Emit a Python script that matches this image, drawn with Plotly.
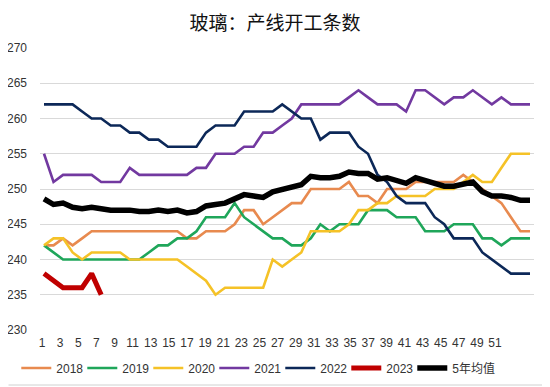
import plotly.graph_objects as go

weeks = list(range(1, 53))
week_labels = list(range(1, 52, 2))

y2018 = [242, 242, 243, 242, 243, 244, 244, 244, 244, 244, 244, 244, 244, 244, 244, 243, 243,
         244, 244, 244, 245, 247, 247, 245, 246, 247, 248, 248, 250, 250, 250, 250, 251, 249,
         249, 248, 250, 250, 250, 251, 251, 251, 251, 251, 252, 251, 250, 249, 248, 246, 244, 244]
y2019 = [242, 241, 240, 240, 240, 240, 240, 240, 240, 240, 240, 241, 242, 242, 243, 243, 244,
         246, 246, 246, 248, 246, 245, 244, 243, 243, 242, 242, 243, 245, 244, 245, 245, 245,
         247, 247, 247, 246, 246, 246, 244, 244, 244, 245, 245, 245, 243, 243, 242, 243, 243, 243]
y2020 = [242, 243, 243, 241, 240, 241, 241, 241, 241, 240, 240, 240, 240, 240, 240, 239, 238,
         237, 235, 236, 236, 236, 236, 236, 240, 239, 240, 241, 244, 244, 244, 244, 245, 247,
         247, 248, 248, 249, 249, 249, 249, 250, 250, 250, 251, 252, 251, 251, 253, 255, 255, 255]
y2021 = [255, 251, 252, 252, 252, 252, 251, 251, 251, 253, 252, 252, 252, 252, 252, 252, 253,
         253, 255, 255, 255, 256, 256, 258, 258, 259, 260, 262, 262, 262, 262, 262, 263, 264,
         263, 262, 262, 262, 261, 264, 264, 263, 262, 263, 263, 264, 263, 262, 263, 262, 262, 262]
y2022 = [262, 262, 262, 262, 261, 260, 260, 259, 259, 258, 258, 257, 257, 256, 256, 256, 256,
         258, 259, 259, 259, 261, 261, 261, 261, 262, 261, 260, 260, 257, 258, 258, 258, 256,
         255, 252, 251, 249, 248, 248, 248, 246, 245, 243, 243, 243, 241, 240, 239, 238, 238, 238]
y2023 = [238, 237, 236, 236, 236, 238, 235]
avg5 = [248.6, 247.8, 248.0, 247.4, 247.2, 247.4, 247.2, 247.0, 247.0, 247.0, 246.8, 246.8, 247.0,
        246.8, 247.0, 246.6, 246.8, 247.6, 247.8, 248.0, 248.6, 249.2, 249.0, 248.8, 249.6, 250.0,
        250.2, 250.6, 251.8, 251.6, 251.6, 251.8, 252.4, 252.2, 252.2, 251.4, 251.6, 251.2, 250.8,
        251.6, 251.2, 250.8, 250.4, 250.4, 250.8, 251.0, 249.6, 249.0, 249.0, 248.8, 248.4, 248.4]

series = [
    ("2018", y2018, "#E88A4F", 2.6),
    ("2019", y2019, "#1FA65A", 2.6),
    ("2020", y2020, "#F5C227", 2.6),
    ("2021", y2021, "#7239A0", 2.6),
    ("2022", y2022, "#0C2858", 2.6),
    ("2023", y2023, "#C00000", 5),
    ("5年均值", avg5, "#000000", 5.5),
]

FONT = "Liberation Sans, Arial, Noto Sans CJK SC, sans-serif"

# figure sized so that, with the page's default 8px body margin, it fills the 550x387 view
W, H = 542, 379
L, R, T, B = 32, 16, 40, 57

fig = go.Figure()
for name, vals, color, w in series:
    fig.add_trace(go.Scatter(
        x=weeks[:len(vals)], y=vals, name=name, mode="lines",
        line=dict(color=color, width=w, shape="linear"),
        xaxis="x", yaxis="y",
        legendwidth=46 if name == "5年均值" else None,
    ))

# week-label axis (category labels row of the original chart)
fig.add_trace(go.Scatter(x=week_labels, y=[None] * len(week_labels), xaxis="x2", yaxis="y",
                         mode="lines", showlegend=False, hoverinfo="skip"))

pw, ph = W - L - R, H - T - B
fig.update_layout(
    width=W, height=H,
    margin=dict(l=L, r=R, t=T, b=B, autoexpand=False),
    paper_bgcolor="white", plot_bgcolor="white",
    font=dict(family=FONT, size=12, color="#333333"),
    title=dict(text="玻璃：产线开工条数", x=267 / W, xanchor="center", y=1 - 15.5 / H, yanchor="middle",
               font=dict(family="Noto Sans CJK SC, sans-serif", size=19, color="#111111")),
    showlegend=True,
    legend=dict(orientation="h", x=-0.048, xanchor="left", y=-0.1348, yanchor="middle",
                entrywidth=21, entrywidthmode="pixels",
                font=dict(family=FONT, size=12, color="#333333"), bgcolor="rgba(0,0,0,0)"),
    xaxis=dict(range=[0.58, 52.42], showticklabels=False, showgrid=False, zeroline=False,
               showline=False, ticks=""),
    xaxis2=dict(overlaying="x", anchor="y", side="bottom", range=[0.78, 55.3],
                tickmode="array", tickvals=week_labels, ticktext=[str(v) for v in week_labels],
                showgrid=False, zeroline=False, showline=False, ticks="",
                ticklabelstandoff=4,
                tickfont=dict(family=FONT, size=12, color="#333333")),
    yaxis=dict(range=[230, 270], dtick=5, tick0=230, showgrid=True, gridcolor="#D9D9D9",
               gridwidth=1, zeroline=False, showline=False, ticks="", ticklabelstandoff=12,
               tickfont=dict(family=FONT, size=12, color="#333333")),
    shapes=[
        dict(type="line", xref="paper", yref="paper",
             x0=(537 - L) / pw, x1=(537 - L) / pw, y0=(ph - (377 - T)) / ph, y1=1 + (T - 0.5) / ph,
             line=dict(color="#D0D0D0", width=1), layer="below"),
        dict(type="line", xref="paper", yref="paper",
             x0=-(L - 0.5) / pw, x1=(537 - L) / pw, y0=(ph - (377 - T)) / ph, y1=(ph - (377 - T)) / ph,
             line=dict(color="#D0D0D0", width=1), layer="below"),
    ],
)

fig.write_html("out.html")
